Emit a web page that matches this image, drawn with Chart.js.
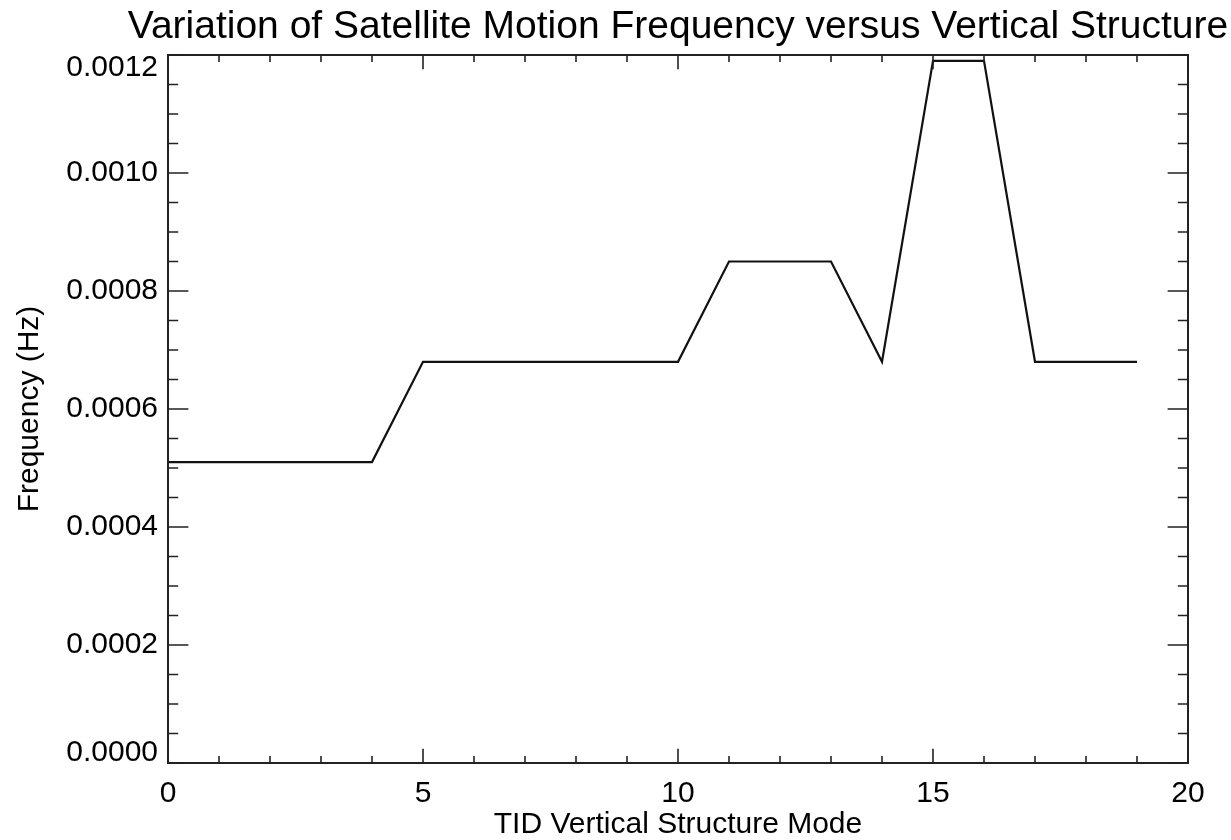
<!DOCTYPE html>
<html>
<head>
<meta charset="utf-8">
<title>Satellite Motion Frequency</title>
<script src="https://cdn.jsdelivr.net/npm/chart.js@4.4.1/dist/chart.umd.min.js"></script>
<style>
  html, body { margin: 0; padding: 0; background: #fff; }
  #wrap { width: 1231px; height: 840px; }
</style>
</head>
<body>
<div id="wrap"><canvas id="freqGraph" width="1231" height="840"></canvas></div>
<script>
// vertical structure mode number and the matching frequency (Hz)
var modes = [0, 1, 2, 3, 4, 5, 6, 7, 8, 9, 10, 11, 12, 13, 14, 15, 16, 17, 18, 19];
var freqHz = [0.00051, 0.00051, 0.00051, 0.00051, 0.00051,
              0.00068, 0.00068, 0.00068, 0.00068, 0.00068, 0.00068,
              0.00085, 0.00085, 0.00085, 0.00068,
              0.00119, 0.00119, 0.00068, 0.00068, 0.00068];

var xTicks = [0, 5, 10, 15, 20];
var yTicks = [0.0000, 0.0002, 0.0004, 0.0006, 0.0008, 0.0010, 0.0012];
var xMinorStep = 1;
var yMinorStep = 0.00005;

var titleText = 'Variation of Satellite Motion Frequency versus Vertical Structure';
var fontFam = "'Liberation Sans', Arial, Helvetica, sans-serif";

// box round the plot, with inward ticks on all four sides (IDL style),
// plus the title centred over the plot box
var frameTicks = {
  id: 'frameTicks',
  afterDraw: function (chart) {
    var ctx = chart.ctx;
    var a = chart.chartArea;
    var xs = chart.scales.x, ys = chart.scales.y;
    var w = a.right - a.left, h = a.bottom - a.top;
    var xMaj = 0.02 * h, yMaj = 0.02 * w;
    ctx.save();
    ctx.strokeStyle = '#222';
    ctx.lineWidth = 2;
    ctx.strokeRect(a.left, a.top, w, h);
    ctx.lineWidth = 1.6;
    ctx.beginPath();
    var v, px, len, major;
    for (v = xs.min; v <= xs.max + 1e-9; v += xMinorStep) {
      px = xs.getPixelForValue(v);
      major = xTicks.indexOf(Math.round(v)) >= 0;
      len = major ? xMaj : xMaj / 2;
      ctx.moveTo(px, a.bottom); ctx.lineTo(px, a.bottom - len);
      ctx.moveTo(px, a.top); ctx.lineTo(px, a.top + len);
    }
    for (var i = 0; i <= Math.round((ys.max - ys.min) / yMinorStep); i++) {
      v = ys.min + i * yMinorStep;
      px = ys.getPixelForValue(v);
      major = i % 4 === 0;
      len = major ? yMaj : yMaj / 2;
      ctx.moveTo(a.left, px); ctx.lineTo(a.left + len, px);
      ctx.moveTo(a.right, px); ctx.lineTo(a.right - len, px);
    }
    ctx.stroke();

    ctx.fillStyle = '#000';
    ctx.font = '39px ' + fontFam;
    ctx.textAlign = 'center';
    ctx.textBaseline = 'alphabetic';
    ctx.fillText(titleText, (a.left + a.right) / 2, 38);
    ctx.restore();
  }
};

// end labels on the y axis sit inside the box, like the rest of the IDL plot
function yLabelFont(c) {
  var f = { family: fontFam, size: 30 };
  if (c.tick && c.tick.value === yTicks[0]) f.lineHeight = '20px';
  if (c.tick && c.tick.value === yTicks[yTicks.length - 1]) f.lineHeight = '26px';
  return f;
}

var ctx = document.getElementById('freqGraph').getContext('2d');
var myChart = new Chart(ctx, {
  type: 'line',
  data: {
    datasets: [{
      label: 'Frequency',
      data: modes.map(function (m, i) { return { x: m, y: freqHz[i] }; }),
      borderColor: '#111',
      borderWidth: 2.2,
      pointRadius: 0,
      tension: 0,
      fill: false
    }]
  },
  options: {
    responsive: false,
    animation: false,
    devicePixelRatio: 1,
    layout: { padding: { top: 55, right: 43, bottom: 0, left: 0 } },
    plugins: {
      legend: { display: false },
      tooltip: { enabled: false },
      title: { display: false }
    },
    scales: {
      x: {
        type: 'linear',
        min: 0,
        max: 20,
        grid: { display: false, drawTicks: false },
        border: { display: false },
        afterBuildTicks: function (scale) {
          scale.ticks = xTicks.map(function (v) { return { value: v }; });
        },
        ticks: {
          color: '#000',
          padding: 13,
          maxRotation: 0,
          font: { family: fontFam, size: 30 },
          callback: function (v) { return String(v); }
        },
        title: {
          display: true,
          text: 'TID Vertical Structure Mode',
          color: '#000',
          font: { family: fontFam, size: 30, lineHeight: 1.0 },
          padding: 0
        },
        afterFit: function (scale) { scale.height = 77; }
      },
      y: {
        type: 'linear',
        min: 0,
        max: 0.0012,
        grid: { display: false, drawTicks: false },
        border: { display: false },
        afterBuildTicks: function (scale) {
          scale.ticks = yTicks.map(function (v) { return { value: v }; });
        },
        ticks: {
          color: '#000',
          padding: 10,
          font: yLabelFont,
          callback: function (v) {
            var s = Number(v).toFixed(4);
            if (v === yTicks[0]) return [s, ''];
            if (v === yTicks[yTicks.length - 1]) return ['', s];
            return s;
          }
        },
        title: {
          display: true,
          text: 'Frequency (Hz)',
          color: '#000',
          font: { family: fontFam, size: 30, lineHeight: 2.0 },
          padding: 0
        },
        afterFit: function (scale) { scale.width = 168; }
      }
    }
  },
  plugins: [frameTicks]
});
</script>
</body>
</html>
